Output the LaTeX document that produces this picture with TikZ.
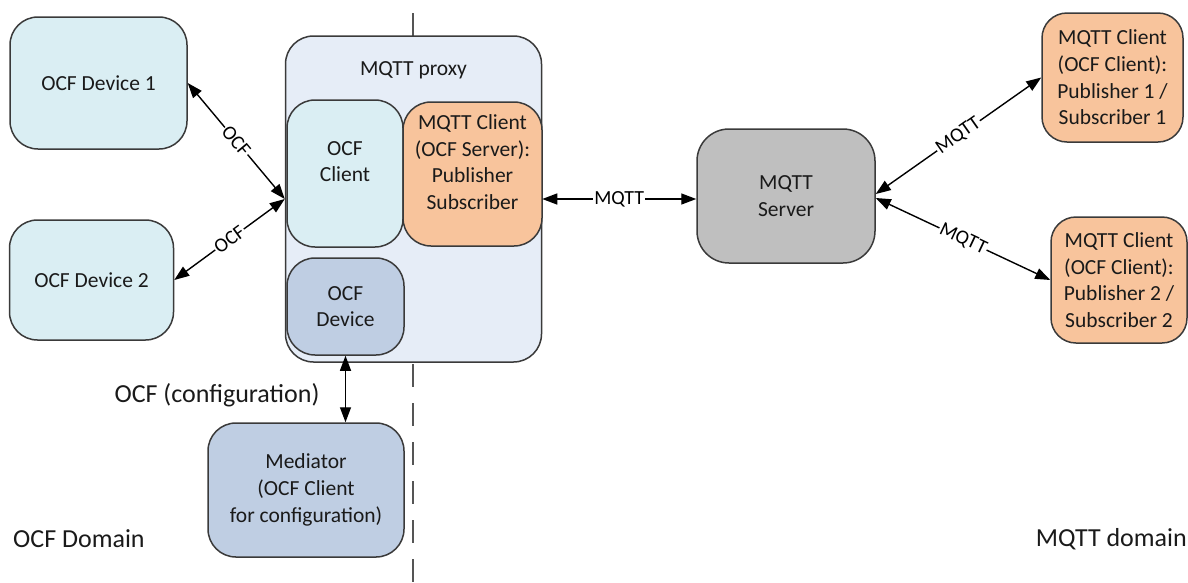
\documentclass[tikz,border=0pt]{standalone}
\usepackage{fontspec}
\setmainfont{Carlito}
\usetikzlibrary{arrows.meta}
\definecolor{lblue}{HTML}{DAEEF3}
\definecolor{proxyc}{HTML}{E6EDF7}
\definecolor{orangec}{HTML}{F8C49C}
\definecolor{greyc}{HTML}{BFBFBF}
\definecolor{steelc}{HTML}{BFCEE3}
\definecolor{bordc}{HTML}{3A3A3A}
\definecolor{txtc}{HTML}{1A1A1A}
\definecolor{dashc}{HTML}{555555}
\newcommand\mybfont{\fontsize{21.5}{26.7}\selectfont}
\newcommand\mylfont{\fontsize{20}{24}\selectfont}
\newcommand\mydfont{\fontsize{26}{30}\selectfont}
\begin{document}
\begin{tikzpicture}[x=1pt,y=-1pt,
  box/.style={draw=bordc, line width=1.5pt, rounded corners=28pt, align=center,
    font=\mybfont, inner sep=0pt, text=txtc},
  txt/.style={align=center, font=\mybfont, inner sep=0pt, text=txtc},
  arr/.style={line width=1.4pt, draw=black,
    {Triangle[length=15pt,width=11pt]}-{Triangle[length=15pt,width=11pt]}},
  lbl/.style={midway, sloped, fill=white, inner sep=1pt, font=\mylfont, text=black},
  dom/.style={font=\mydfont, inner sep=0pt, text=txtc}]
\useasboundingbox (0,0) rectangle (1188,582);
% domain divider
\coordinate (dtop) at (413,13);
\coordinate (dbot) at (413,582);
\draw[dashc, line width=2pt, dash pattern=on 23pt off 16pt] (dtop) -- (dbot);
% left devices
\node[box, fill=lblue, minimum width=177, minimum height=132] (dev1) at (98.5,83) {OCF Device 1};
\node[box, fill=lblue, minimum width=164, minimum height=120] (dev2) at (91.5,280) {OCF Device 2};
% proxy
\node[box, fill=proxyc, minimum width=256, minimum height=326] (proxy) at (413.5,199) {};
\node[txt] (proxylbl) at (413.5,70) {MQTT proxy};
\node[box, fill=lblue, minimum width=116, minimum height=147] (ocfcl) at (345,173.5) {};
\node[txt] (ocfcltxt) at (345,161.5) {OCF\\Client};
\node[box, fill=orangec, minimum width=139, minimum height=144] (mqcl) at (472.5,174) {};
\node[txt] (mqcltxt) at (472.5,162) {MQTT Client\\(OCF Server):\\Publisher\\Subscriber};
\node[box, fill=steelc, minimum width=117, minimum height=97] (ocfdev) at (345.5,306.5) {OCF\\Device};
% mediator
\node[box, fill=steelc, minimum width=196, minimum height=134] (med) at (306,490) {Mediator\\(OCF Client\\for configuration)};
% server and clients
\node[box, fill=greyc, minimum width=178, minimum height=134, rounded corners=32pt] (srv) at (786,196) {MQTT\\Server};
\node[box, fill=orangec, minimum width=141, minimum height=129, rounded corners=25pt] (cl1) at (1112.5,77.5) {MQTT Client\\(OCF Client):\\Publisher 1 /\\Subscriber 1};
\node[box, fill=orangec, minimum width=136, minimum height=126, rounded corners=25pt] (cl2) at (1119,280) {MQTT Client\\(OCF Client):\\Publisher 2 /\\Subscriber 2};
% connectors
\draw[arr] (dev1.east) -- (proxy.west) node[lbl] {OCF};
\draw[arr] (dev2.east) -- (proxy.west) node[lbl] {OCF};
\draw[arr] (proxy.east) -- (proxy.east -| srv.west) node[lbl] {MQTT};
\draw[arr] ([yshift=2pt]srv.east) -- (cl1.west) node[lbl] {MQTT};
\draw[arr] ([yshift=-2pt]srv.east) -- (cl2.west) node[lbl] {MQTT};
\draw[arr] (ocfdev.south) -- (ocfdev.south |- med.north);
% free labels
\node[dom] (cfglbl) at (217,395) {OCF (configuration)};
\node[dom, anchor=west] (ocfdom) at (13,539) {OCF Domain};
\node[dom, anchor=east] (mqdom) at (1187,539) {MQTT domain};
\end{tikzpicture}
\end{document}
